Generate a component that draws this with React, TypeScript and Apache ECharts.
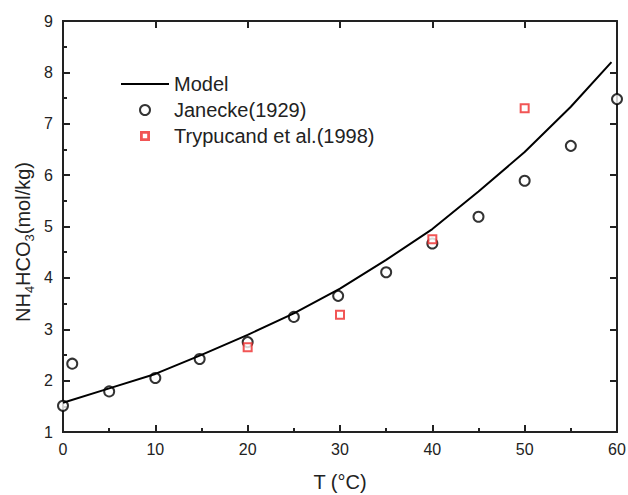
import React, { useEffect, useRef } from "react";
import * as echarts from "echarts";

// ---- data ----
const modelT = [0, 5, 10, 15, 20, 25, 30, 35, 40, 45, 50, 55, 59.4];
const modelC = [1.57, 1.85, 2.13, 2.5, 2.89, 3.31, 3.79, 4.35, 4.95, 5.68, 6.45, 7.33, 8.2];
const janeckeT = [0, 1, 5, 10, 14.8, 20, 25, 29.8, 35, 40, 45, 50, 55, 60];
const janeckeC = [1.51, 2.33, 1.79, 2.05, 2.42, 2.75, 3.24, 3.65, 4.11, 4.67, 5.19, 5.89, 6.57, 7.48];
const trypT = [20, 30, 40, 50];
const trypC = [2.65, 3.28, 4.75, 7.3];

const seriesNames = ["Model", "Janecke(1929)", "Trypucand et al.(1998)"];
const xMin = 0, xMax = 60, xStep = 10;
const yMin = 1, yMax = 9, yStep = 1;
const xTitle = "T (°C)";

const FONT = "'Liberation Sans', Arial, Helvetica, sans-serif";
const AX = "#222";
const TXT = "#222";
const RED = "#ee2b2b";

function zip(a: number[], b: number[]) {
  return a.map((v, i) => [v, b[i]]);
}

function mkAxis(kind: "x" | "y", position: string, labels: boolean, minor: boolean) {
  const isX = kind === "x";
  return {
    type: "value",
    position,
    min: isX ? xMin : yMin,
    max: isX ? xMax : yMax,
    interval: isX ? xStep : yStep,
    splitLine: { show: false },
    axisLine: { show: true, onZero: false, lineStyle: { color: AX, width: 2 } },
    axisTick: { show: true, inside: true, length: 7, lineStyle: { color: AX, width: 2 } },
    minorTick: { show: minor, splitNumber: 2, length: 4, lineStyle: { color: AX, width: 2 } },
    axisLabel: labels
      ? { show: true, fontFamily: FONT, fontSize: 16, color: TXT, margin: isX ? 9 : 10 }
      : { show: false },
  };
}

export default function App() {
  const ref = useRef<HTMLDivElement>(null);
  useEffect(() => {
    if (!ref.current) return;
    const chart = echarts.init(ref.current, null, { renderer: "svg" });
    chart.setOption({
      animation: false,
      backgroundColor: "#fff",
      grid: { left: 63, right: 11, top: 21, bottom: 63, containLabel: false, outerBoundsMode: "none" },
      legend: {
        orient: "vertical",
        left: 121,
        top: 74,
        padding: 0,
        itemWidth: 48,
        itemHeight: 10,
        itemGap: 6,
        data: [
          { name: seriesNames[0], icon: "path://M0,0H48V2H0Z", itemStyle: { color: "#000", borderWidth: 0 } },
          { name: seriesNames[1], icon: "emptyCircle", itemStyle: { color: "#000", borderColor: "#000", borderWidth: 2.5 } },
          {
            name: seriesNames[2],
            icon: "path://M0,0H10V10H0Z M2.8,2.8V7.2H7.2V2.8Z",
            itemStyle: { color: RED, borderWidth: 0 },
          },
        ],
        textStyle: { fontFamily: FONT, fontSize: 20, color: TXT, lineHeight: 20 },
      },
      xAxis: [
        {
          ...mkAxis("x", "bottom", true, true),
          name: xTitle,
          nameLocation: "middle",
          nameGap: 40,
          nameTextStyle: { fontFamily: FONT, fontSize: 20, color: TXT },
        },
        mkAxis("x", "top", false, false),
        mkAxis("x", "bottom", false, false),
      ],
      yAxis: [
        mkAxis("y", "left", true, true),
        mkAxis("y", "right", false, false),
        mkAxis("y", "left", false, false),
      ],
      graphic: [
        {
          type: "text",
          x: 23,
          y: 242,
          rotation: Math.PI / 2,
          style: {
            text: "{m|NH}{s|4}{m|HCO}{s|3}{m|(mol/kg)}",
            align: "center",
            verticalAlign: "middle",
            textAlign: "center",
            textVerticalAlign: "middle",
            fill: TXT,
            rich: {
              m: { fontFamily: FONT, fontSize: 20, lineHeight: 20, color: TXT, fill: TXT, verticalAlign: "top" },
              s: { fontFamily: FONT, fontSize: 13, lineHeight: 13, color: TXT, fill: TXT, verticalAlign: "top", padding: [10, 0, 0, 0] },
            },
          },
        },
      ],
      series: [
        {
          name: seriesNames[0],
          type: "line",
          data: zip(modelT, modelC),
          symbol: "none",
          lineStyle: { color: "#000", width: 2 },
          itemStyle: { color: "#000" },
        },
        {
          name: seriesNames[1],
          type: "scatter",
          data: zip(janeckeT, janeckeC),
          symbol: "emptyCircle",
          symbolSize: 10,
          itemStyle: { color: "#000", borderColor: "#000", borderWidth: 2.5 },
        },
        {
          name: seriesNames[2],
          type: "scatter",
          data: zip(trypT, trypC),
          symbol: "emptyRect",
          symbolSize: 8,
          itemStyle: { color: RED, borderColor: RED, borderWidth: 3 },
        },
      ],
    });
    return () => chart.dispose();
  }, []);
  return (
    <div
      ref={ref}
      style={{ position: "fixed", left: 0, top: 0, width: 628, height: 495, background: "#fff" }}
    />
  );
}
